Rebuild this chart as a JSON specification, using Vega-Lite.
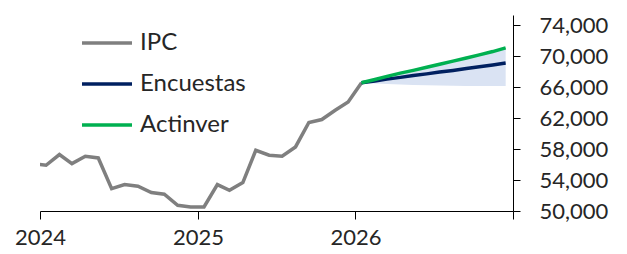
{
  "$schema": "https://vega.github.io/schema/vega-lite/v6.json",
  "autosize": {"type": "none"},
  "padding": {"left": 40, "top": 15, "right": 114, "bottom": 43},
  "width": 473,
  "height": 196,
  "background": "white",
  "config": {
    "view": {"stroke": null},
    "font": "Lato",
    "axis": {"labelFont": "Lato", "labelFontSize": 22, "labelColor": "#262626", "domainColor": "#000000", "tickColor": "#000000", "grid": false, "title": null, "domainWidth": 1, "tickWidth": 1, "labelOverlap": false}
  },
  "datasets": {
    "lines": [
      {"series": "IPC", "date": "2023-12-15", "value": 56100},
      {"series": "IPC", "date": "2024-01-15", "value": 55900},
      {"series": "IPC", "date": "2024-02-15", "value": 57290},
      {"series": "IPC", "date": "2024-03-15", "value": 56120},
      {"series": "IPC", "date": "2024-04-15", "value": 57070},
      {"series": "IPC", "date": "2024-05-15", "value": 56850},
      {"series": "IPC", "date": "2024-06-15", "value": 52890},
      {"series": "IPC", "date": "2024-07-15", "value": 53410},
      {"series": "IPC", "date": "2024-08-15", "value": 53190},
      {"series": "IPC", "date": "2024-09-15", "value": 52380},
      {"series": "IPC", "date": "2024-10-15", "value": 52160},
      {"series": "IPC", "date": "2024-11-15", "value": 50740},
      {"series": "IPC", "date": "2024-12-15", "value": 50520},
      {"series": "IPC", "date": "2025-01-15", "value": 50520},
      {"series": "IPC", "date": "2025-02-15", "value": 53410},
      {"series": "IPC", "date": "2025-03-15", "value": 52670},
      {"series": "IPC", "date": "2025-04-15", "value": 53670},
      {"series": "IPC", "date": "2025-05-15", "value": 57840},
      {"series": "IPC", "date": "2025-06-15", "value": 57200},
      {"series": "IPC", "date": "2025-07-15", "value": 57070},
      {"series": "IPC", "date": "2025-08-15", "value": 58270},
      {"series": "IPC", "date": "2025-09-15", "value": 61420},
      {"series": "IPC", "date": "2025-10-15", "value": 61810},
      {"series": "IPC", "date": "2025-11-15", "value": 63010},
      {"series": "IPC", "date": "2025-12-15", "value": 64080},
      {"series": "IPC", "date": "2026-01-15", "value": 66550},
      {"series": "Encuestas", "date": "2026-01-15", "value": 66550},
      {"series": "Encuestas", "date": "2026-02-15", "value": 66780},
      {"series": "Encuestas", "date": "2026-03-15", "value": 67020},
      {"series": "Encuestas", "date": "2026-04-15", "value": 67250},
      {"series": "Encuestas", "date": "2026-05-15", "value": 67480},
      {"series": "Encuestas", "date": "2026-06-15", "value": 67700},
      {"series": "Encuestas", "date": "2026-07-15", "value": 67930},
      {"series": "Encuestas", "date": "2026-08-15", "value": 68150},
      {"series": "Encuestas", "date": "2026-09-15", "value": 68400},
      {"series": "Encuestas", "date": "2026-10-15", "value": 68620},
      {"series": "Encuestas", "date": "2026-11-15", "value": 68850},
      {"series": "Encuestas", "date": "2026-12-15", "value": 69100},
      {"series": "Actinver", "date": "2026-01-15", "value": 66550},
      {"series": "Actinver", "date": "2026-02-15", "value": 66980},
      {"series": "Actinver", "date": "2026-03-15", "value": 67380},
      {"series": "Actinver", "date": "2026-04-15", "value": 67800},
      {"series": "Actinver", "date": "2026-05-15", "value": 68150},
      {"series": "Actinver", "date": "2026-06-15", "value": 68550},
      {"series": "Actinver", "date": "2026-07-15", "value": 68950},
      {"series": "Actinver", "date": "2026-08-15", "value": 69350},
      {"series": "Actinver", "date": "2026-09-15", "value": 69750},
      {"series": "Actinver", "date": "2026-10-15", "value": 70150},
      {"series": "Actinver", "date": "2026-11-15", "value": 70580},
      {"series": "Actinver", "date": "2026-12-15", "value": 71050}
    ],
    "band": [
      {"date": "2026-01-15", "lo": 66550, "hi": 66550},
      {"date": "2026-02-15", "lo": 66450, "hi": 66980},
      {"date": "2026-03-15", "lo": 66380, "hi": 67380},
      {"date": "2026-04-15", "lo": 66320, "hi": 67800},
      {"date": "2026-05-15", "lo": 66270, "hi": 68150},
      {"date": "2026-06-15", "lo": 66220, "hi": 68550},
      {"date": "2026-07-15", "lo": 66190, "hi": 68950},
      {"date": "2026-08-15", "lo": 66160, "hi": 69350},
      {"date": "2026-09-15", "lo": 66150, "hi": 69750},
      {"date": "2026-10-15", "lo": 66150, "hi": 70150},
      {"date": "2026-11-15", "lo": 66150, "hi": 70580},
      {"date": "2026-12-15", "lo": 66150, "hi": 71050}
    ]
  },
  "encoding": {
    "x": {
      "field": "date", "type": "temporal",
      "scale": {"domain": ["2024-01-01T00:00:00", "2027-01-01T00:00:00"]},
      "axis": {
        "orient": "bottom",
        "values": [{"year": 2024, "month": 1, "date": 1}, {"year": 2025, "month": 1, "date": 1}, {"year": 2026, "month": 1, "date": 1}, {"year": 2027, "month": 1, "date": 1}],
        "labelExpr": "year(datum.value) == 2027 ? '' : timeFormat(datum.value, '%Y')",
        "tickSize": 8, "labelPadding": 8, "labelDx": 6, "labelAlign": "center", "labelFlush": false
      }
    }
  },
  "layer": [
    {
      "data": {"name": "band"},
      "mark": {"type": "area", "color": "#dae3f3", "opacity": 1},
      "encoding": {
        "y": {"field": "lo", "type": "quantitative", "scale": {"domain": [50000, 75300], "nice": false, "zero": false},
          "axis": {"orient": "right", "values": [50000, 54000, 58000, 62000, 66000, 70000, 74000], "format": ",.0f", "tickSize": 7, "labelPadding": 19, "labelOverlap": false}},
        "y2": {"field": "hi"}
      }
    },
    {
      "data": {"name": "lines"},
      "mark": {"type": "line", "strokeWidth": 3.5, "clip": true},
      "encoding": {
        "y": {"field": "value", "type": "quantitative", "scale": {"domain": [50000, 75300], "nice": false, "zero": false},
          "axis": {"orient": "right", "values": [50000, 54000, 58000, 62000, 66000, 70000, 74000], "format": ",.0f", "tickSize": 7, "labelPadding": 19, "labelOverlap": false}},
        "color": {
          "field": "series", "type": "nominal",
          "scale": {"domain": ["IPC", "Encuestas", "Actinver"], "range": ["#7f7f7f", "#002060", "#00b050"]},
          "legend": {
            "title": null, "orient": "none", "legendX": 40, "legendY": 1,
            "symbolType": "stroke", "symbolSize": 2500, "symbolStrokeWidth": 3.5,
            "labelFont": "Lato", "labelFontSize": 24, "labelColor": "#262626",
            "labelOffset": 6, "rowPadding": 2, "padding": 0
          }
        },
        "order": {"field": "series", "sort": "descending"}
      }
    }
  ]
}
